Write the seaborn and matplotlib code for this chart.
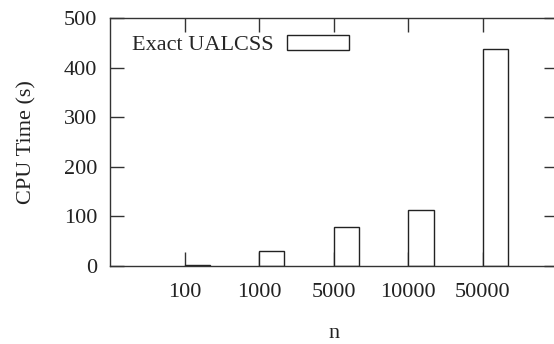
import numpy as np
import pandas as pd
import matplotlib
matplotlib.use("Agg")
import matplotlib.pyplot as plt
import seaborn as sns

n_labels = ["100", "1000", "5000", "10000", "50000"]
cpu_time = [2.5, 30, 79, 113, 437]
series_name = "Exact UALCSS"

df = pd.DataFrame({"n": n_labels, "CPU Time (s)": cpu_time})

sns.set_style("ticks")
plt.rcParams["font.family"] = ["Liberation Serif", "DejaVu Serif"]
plt.rcParams["font.size"] = 16

fig = plt.figure(figsize=(5.54, 3.44), dpi=100)
ax = fig.add_axes([110 / 554, 78 / 344, 448 / 554, 248 / 344])

bar_w = 0.34
sns.barplot(data=df, x="n", y="CPU Time (s)", ax=ax, width=bar_w,
            color="white", edgecolor="#222222", linewidth=1.0,
            label=series_name)

# gnuplot style: tick sits at the bar's left edge
ax.set_xticks(np.arange(len(n_labels)) - bar_w / 2)
ax.set_xticklabels(n_labels)
ax.set_xlim(-1 - bar_w / 2, len(n_labels) - bar_w / 2 + 0.01)
ax.set_ylim(0, 500)
ax.set_yticks(range(0, 501, 100))

for side in ["top", "bottom", "left", "right"]:
    ax.spines[side].set_visible(True)
    ax.spines[side].set_linewidth(1.0)
    ax.spines[side].set_color("#333333")

ax.tick_params(axis="both", direction="in", length=10, width=1.0,
               color="#333333", labelcolor="#222222", labelsize=16)
ax.tick_params(axis="y", right=True, pad=9)
ax.tick_params(axis="x", top=True, pad=12)

ax.set_xlabel("n", fontsize=16, color="#222222", labelpad=16)
ax.set_ylabel("CPU Time (s)", fontsize=16, color="#222222", labelpad=20)

ax.legend(loc="center left", bbox_to_anchor=(0.049, 0.891), frameon=False,
          markerfirst=False, handlelength=2.8, handleheight=0.63,
          handletextpad=0.6, borderpad=0, borderaxespad=0, fontsize=16)

plt.savefig("out.png", dpi=100)
